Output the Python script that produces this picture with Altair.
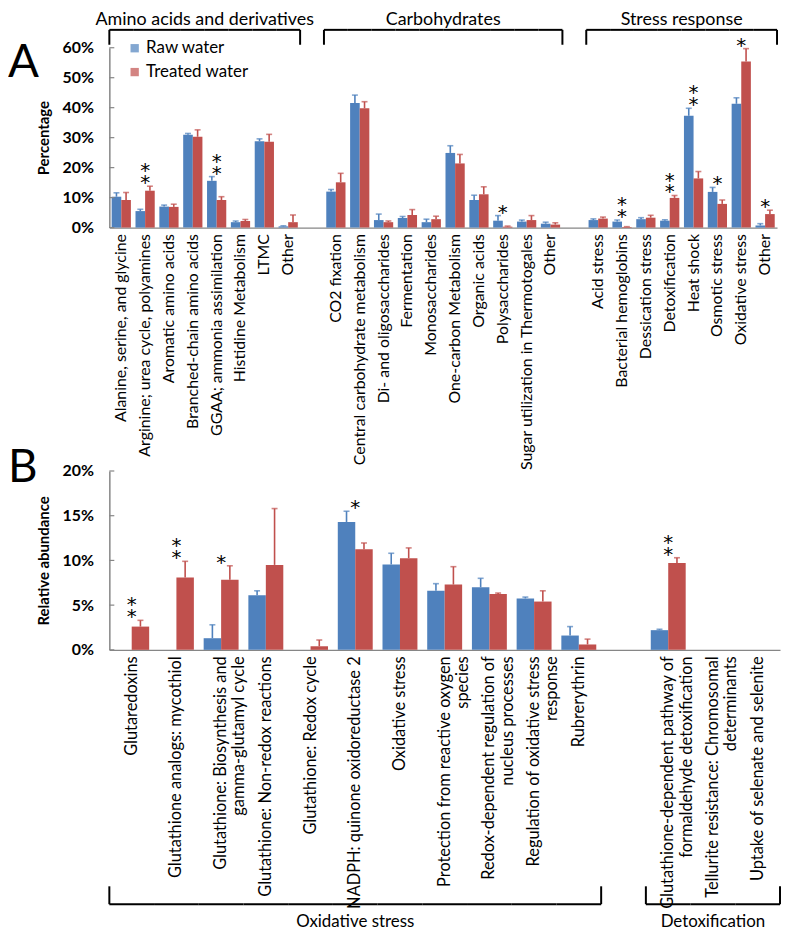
import altair as alt
import pandas as pd

SERIES = ["Raw water", "Treated water"]
COLORS = ["#4F81BD", "#C0504D"]
FONT = "Lato"
AXIS_GRAY = "#868686"

# ---------------- Panel A (percent values) ----------------
A_GROUPS = ["Amino acids and derivatives", "Carbohydrates", "Stress response"]

A_AMINO = ["Alanine, serine, and glycine", "Arginine; urea cycle, polyamines",
           "Aromatic amino acids", "Branched-chain amino acids",
           "GGAA; ammonia assimilation", "Histidine Metabolism", "LTMC", "Other"]
A_AMINO_RAW = [10.3, 5.5, 7.0, 31.0, 15.6, 1.8, 28.8, 0.4]
A_AMINO_RAW_ERR = [1.3, 0.6, 0.5, 0.4, 1.4, 0.4, 0.8, 0.2]
A_AMINO_TRT = [9.2, 12.3, 6.9, 30.3, 9.2, 2.2, 28.6, 1.8]
A_AMINO_TRT_ERR = [2.5, 1.5, 0.9, 2.3, 1.1, 0.5, 2.5, 2.4]

A_CARB = ["CO2 fixation", "Central carbohydrate metabolism", "Di- and oligosaccharides",
          "Fermentation", "Monosaccharides", "One-carbon Metabolism", "Organic acids",
          "Polysaccharides", "Sugar utilization in Thermotogales", "Other"]
A_CARB_RAW = [12.0, 41.6, 2.5, 3.2, 1.8, 24.9, 9.2, 2.3, 2.0, 1.3]
A_CARB_RAW_ERR = [0.7, 2.6, 2.0, 0.5, 1.0, 2.4, 1.6, 1.7, 0.5, 0.5]
A_CARB_TRT = [15.1, 39.8, 1.8, 4.2, 2.8, 21.4, 11.1, 0.3, 2.5, 1.0]
A_CARB_TRT_ERR = [3.0, 2.2, 0.4, 1.8, 1.0, 3.0, 2.5, 0.2, 1.5, 0.6]

A_STRESS = ["Acid stress", "Bacterial hemoglobins", "Dessication stress", "Detoxification",
            "Heat shock", "Osmotic stress", "Oxidative stress", "Other"]
A_STRESS_RAW = [2.5, 2.0, 2.8, 2.3, 37.3, 11.9, 41.3, 0.7]
A_STRESS_RAW_ERR = [0.4, 0.5, 0.5, 0.3, 2.5, 1.5, 2.0, 0.6]
A_STRESS_TRT = [3.0, 0.2, 3.3, 9.9, 16.4, 7.9, 55.4, 4.5]
A_STRESS_TRT_ERR = [0.5, 0.1, 0.8, 0.8, 2.3, 1.3, 4.3, 1.3]

A_STAR_GROUP = [0, 0, 1, 2, 2, 2, 2, 2, 2]
A_STAR_NAME = ["Arginine; urea cycle, polyamines", "GGAA; ammonia assimilation",
               "Polysaccharides", "Bacterial hemoglobins", "Detoxification",
               "Heat shock", "Osmotic stress", "Oxidative stress", "Other"]
A_STAR_COUNT = [2, 2, 1, 2, 2, 2, 1, 1, 1]
A_YTICKS = [0, 0.1, 0.2, 0.3, 0.4, 0.5, 0.6]

# ---------------- Panel B (percent values) ----------------
B_GROUPS = ["Oxidative stress", "Detoxification"]
B_OX = ["Glutaredoxins", "Glutathione analogs: mycothiol",
        "Glutathione: Biosynthesis and|gamma-glutamyl cycle",
        "Glutathione: Non-redox reactions", "Glutathione: Redox cycle",
        "NADPH: quinone oxidoreductase 2", "Oxidative stress",
        "Protection from reactive oxygen|species",
        "Redox-dependent regulation of|nucleus processes",
        "Regulation of oxidative stress|response", "Rubrerythrin"]
B_OX_RAW = [0, 0, 1.3, 6.1, 0, 14.3, 9.55, 6.6, 7.0, 5.75, 1.6]
B_OX_RAW_ERR = [0, 0, 1.5, 0.5, 0, 1.2, 1.25, 0.8, 1.0, 0.15, 1.0]
B_OX_TRT = [2.6, 8.1, 7.85, 9.5, 0.4, 11.25, 10.25, 7.3, 6.25, 5.4, 0.6]
B_OX_TRT_ERR = [0.7, 1.8, 1.55, 6.3, 0.7, 0.7, 1.15, 2.0, 0.1, 1.2, 0.6]

B_DETOX = ["Glutathione-dependent pathway of|formaldehyde detoxification",
           "Tellurite resistance: Chromosomal|determinants",
           "Uptake of selenate and selenite"]
B_DETOX_RAW = [2.2, 0, 0]
B_DETOX_RAW_ERR = [0.1, 0, 0]
B_DETOX_TRT = [9.7, 0, 0]
B_DETOX_TRT_ERR = [0.6, 0, 0]

B_STAR_GROUP = [0, 0, 0, 0, 1]
B_STAR_NAME = ["Glutaredoxins", "Glutathione analogs: mycothiol",
               "Glutathione: Biosynthesis and|gamma-glutamyl cycle",
               "NADPH: quinone oxidoreductase 2",
               "Glutathione-dependent pathway of|formaldehyde detoxification"]
B_STAR_COUNT = [2, 2, 1, 1, 2]
B_YTICKS = [0, 0.05, 0.10, 0.15, 0.20]


def key(name, prefix, gi):
    return f"{name}#{prefix}{gi}"


def build(groups_data, prefix):
    rows, domain, brackets = [], [], []
    for gi, (gname, names, raw, rerr, trt, terr) in enumerate(groups_data):
        if gi > 0:
            domain.append(f"#gap{prefix}{gi}")
        keys = [key(n, prefix, gi) for n in names]
        domain += keys
        for k, r, re_, t, te in zip(keys, raw, rerr, trt, terr):
            rows.append(dict(cat=k, series=SERIES[0], value=r / 100, err=re_ / 100, hi=(r + re_) / 100))
            rows.append(dict(cat=k, series=SERIES[1], value=t / 100, err=te / 100, hi=(t + te) / 100))
        brackets.append(dict(group=gname, first=keys[0], last=keys[-1],
                             mid=keys[len(keys) // 2], members=keys))
    return pd.DataFrame(rows), domain, brackets


def star_frame(df, prefix, gidx, names, counts):
    out = []
    for g, n, c in zip(gidx, names, counts):
        k = key(n, prefix, g)
        top = df.loc[df.cat == k, "hi"].max()
        out.append(dict(cat=k, top=top, count=c, star="\n".join(["*"] * c)))
    return pd.DataFrame(out)


def panel(df, domain, brackets, stars, yticks, ytitle, w, h, offset_pad,
          label_size, letter, letter_y, legend, above, mid_band, bracket_pos, group_size):
    xaxis = alt.Axis(title=None, labelAngle=-90, labelFontSize=label_size, labelLimit=500,
                     labelExpr="split(split(datum.label, '#')[0], '|')",
                     labelLineHeight=label_size + 2, ticks=False, domainColor=AXIS_GRAY,
                     domainWidth=1.2, labelPadding=6, labelColor="black", labelFont=FONT)
    xscale = alt.Scale(domain=domain, paddingInner=0, paddingOuter=0)
    X = alt.X("cat:N", scale=xscale, axis=xaxis)
    XO = alt.XOffset("series:N", scale=alt.Scale(domain=SERIES, paddingInner=0, paddingOuter=offset_pad))
    yscale = alt.Scale(domain=[0, yticks[-1]], nice=False, zero=True)
    yaxis = alt.Axis(title=ytitle, values=yticks, format=".0%", grid=False, ticks=False,
                     domainColor=AXIS_GRAY, domainWidth=1.5, labelFontWeight="bold",
                     labelFontSize=16, labelPadding=16, labelColor="black", labelFont=FONT,
                     titleFont=FONT, titleFontSize=15, titleFontWeight="bold", titleColor="black",
                     titleX=-58, titleY=h / 2)
    cscale = alt.Scale(domain=SERIES, range=COLORS)
    if legend:
        lg = alt.Legend(title=None, orient="none", legendX=17, legendY=-8, symbolType="square",
                        symbolSize=70, labelFontSize=17, labelFont=FONT, rowPadding=6,
                        labelOffset=3, symbolStrokeWidth=0, labelColor="black")
    else:
        lg = None
    C = alt.Color("series:N", scale=cscale, legend=lg)

    bars = alt.Chart(df).mark_bar().encode(
        x=X, xOffset=XO, y=alt.Y("value:Q", scale=yscale, axis=yaxis), color=C)
    errd = alt.Chart(df).transform_filter("datum.err > 0")
    err = errd.mark_rule(strokeWidth=1.6).encode(
        x=X, xOffset=XO, y=alt.Y("value:Q", scale=yscale, axis=yaxis), y2="hi:Q", color=C)
    caps = errd.mark_tick(orient="horizontal", size=6, thickness=1.6).encode(
        x=X, xOffset=XO, y=alt.Y("hi:Q", scale=yscale, axis=yaxis), color=C)

    ticks = alt.Chart(pd.DataFrame({"t": yticks})).mark_rule(
        color=AXIS_GRAY, strokeWidth=1.2).encode(
        y=alt.Y("t:Q", scale=yscale, axis=yaxis), x=alt.value(0), x2=alt.value(5))

    s1 = alt.Chart(stars).transform_filter("datum.count == 1").mark_text(
        font="DejaVu Sans", fontSize=20, baseline="alphabetic", dy=3, color="black").encode(
        x=alt.X("cat:N", scale=xscale, axis=xaxis),
        y=alt.Y("top:Q", scale=yscale, axis=yaxis), text="star:N")
    s2 = alt.Chart(stars).transform_filter("datum.count > 1").mark_text(
        font="DejaVu Sans", fontSize=20, baseline="alphabetic", dy=-9, lineBreak="\n",
        lineHeight=12, color="black").encode(
        x=alt.X("cat:N", scale=xscale, axis=xaxis),
        y=alt.Y("top:Q", scale=yscale, axis=yaxis), text="star:N")

    line_y, tick_y, text_y = bracket_pos
    seg_rows, end_rows, lab_rows = [], [], []
    for b in brackets:
        for m in b["members"]:
            seg_rows.append(dict(cat=m))
        end_rows.append(dict(cat=b["first"], side="start"))
        end_rows.append(dict(cat=b["last"], side="end"))
        lab_rows.append(dict(cat=b["mid"], group=b["group"]))
    seg = alt.Chart(pd.DataFrame(seg_rows)).mark_bar(color="black").encode(
        x=alt.X("cat:N", scale=xscale, axis=xaxis),
        y=alt.value(line_y - 1), y2=alt.value(line_y + 1))
    ends = pd.DataFrame(end_rows)
    e1 = alt.Chart(ends).transform_filter("datum.side == 'start'").mark_rule(
        color="black", strokeWidth=2).encode(
        x=alt.X("cat:N", scale=xscale, axis=xaxis, bandPosition=0.0),
        y=alt.value(min(line_y, tick_y) - (0 if above else 1)),
        y2=alt.value(max(line_y, tick_y) + (1 if above else 0)))
    e2 = alt.Chart(ends).transform_filter("datum.side == 'end'").mark_rule(
        color="black", strokeWidth=2).encode(
        x=alt.X("cat:N", scale=xscale, axis=xaxis, bandPosition=1.0),
        y=alt.value(min(line_y, tick_y) - (0 if above else 1)),
        y2=alt.value(max(line_y, tick_y) + (1 if above else 0)))
    labs = alt.Chart(pd.DataFrame(lab_rows)).mark_text(
        font=FONT, fontSize=group_size, baseline="alphabetic", align="center", color="black").encode(
        x=alt.X("cat:N", scale=xscale, axis=xaxis, bandPosition=mid_band),
        y=alt.value(text_y), text="group:N")

    let = alt.Chart(pd.DataFrame({"t": [letter]})).mark_text(
        font=FONT, fontSize=46, align="left", baseline="alphabetic", color="black").encode(
        x=alt.value(-102), y=alt.value(letter_y), text="t:N")

    return alt.layer(bars, err, caps, ticks, s1, s2, seg, e1, e2, labs, let).properties(
        width=w, height=h)


dfA, domA, brA = build([
    (A_GROUPS[0], A_AMINO, A_AMINO_RAW, A_AMINO_RAW_ERR, A_AMINO_TRT, A_AMINO_TRT_ERR),
    (A_GROUPS[1], A_CARB, A_CARB_RAW, A_CARB_RAW_ERR, A_CARB_TRT, A_CARB_TRT_ERR),
    (A_GROUPS[2], A_STRESS, A_STRESS_RAW, A_STRESS_RAW_ERR, A_STRESS_TRT, A_STRESS_TRT_ERR),
], "a")
starsA = star_frame(dfA, "a", A_STAR_GROUP, A_STAR_NAME, A_STAR_COUNT)

dfB, domB, brB = build([
    (B_GROUPS[0], B_OX, B_OX_RAW, B_OX_RAW_ERR, B_OX_TRT, B_OX_TRT_ERR),
    (B_GROUPS[1], B_DETOX, B_DETOX_RAW, B_DETOX_RAW_ERR, B_DETOX_TRT, B_DETOX_TRT_ERR),
], "b")
starsB = star_frame(dfB, "b", B_STAR_GROUP, B_STAR_NAME, B_STAR_COUNT)

hA, hB = 181, 180
chartA = panel(dfA, domA, brA, starsA, A_YTICKS, "Percentage", 672, hA, 0.24, 16,
               "A", 29, True, True, 0.0, (-18, -4, -23), 18)
chartB = panel(dfB, domB, brB, starsB, B_YTICKS, "Relative abundance", 675, hB, 0.28, 16.5,
               "B", 11, False, False, 0.5, (hB + 256, hB + 239, hB + 279), 17)

chart = alt.vconcat(chartA, chartB, spacing=245, bounds="flush").resolve_scale(
    x="independent", y="independent", color="independent", xOffset="independent"
).properties(padding=0).configure_view(stroke=None)

chart.save("out.html", embed_options={"renderer": "svg", "actions": False})
